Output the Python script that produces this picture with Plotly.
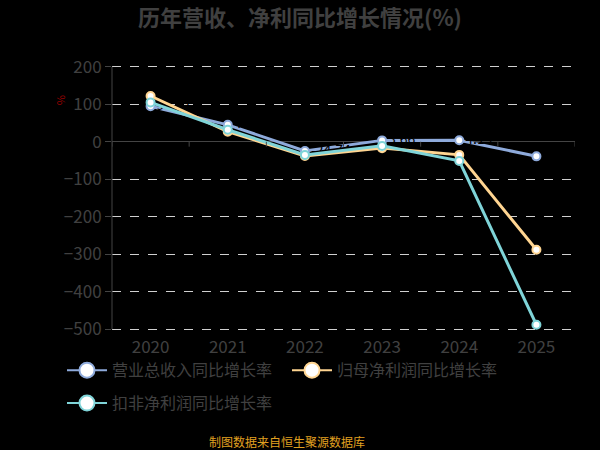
import plotly.graph_objects as go

years = ["2020", "2021", "2022", "2023", "2024", "2025"]
revenue_growth = [94.51, 45.15, -24.74, 3.66, 4.19, -38.9]
parent_profit_growth = [122.0, 27.0, -38.0, -17.0, -35.0, -288.0]
deducted_profit_growth = [105.0, 32.0, -35.0, -11.0, -51.0, -488.0]

names = ["营业总收入同比增长率", "归母净利润同比增长率", "扣非净利润同比增长率"]
colors = ["#8eaadb", "#ffd591", "#7fd4d8"]
series = [revenue_growth, parent_profit_growth, deducted_profit_growth]
legend_ids = ["legend", "legend", "legend2"]
y_ticks = [200, 100, 0, -100, -200, -300, -400, -500]

font_family = "Noto Sans CJK SC, Microsoft YaHei, sans-serif"
text_gray = "#404040"

fig = go.Figure()

for i, (name, color, vals) in enumerate(zip(names, colors, series)):
    fig.add_trace(go.Scatter(
        x=years, y=vals, mode="lines+markers+text" if i == 0 else "lines+markers",
        text=[f"{v:.2f}" for v in vals] if i == 0 else None,
        textposition="middle right",
        textfont=dict(color="#000000", size=14, family=font_family),
        line=dict(color=color, width=3),
        marker=dict(size=8, color="#ffffff", line=dict(color=color, width=2)),
        showlegend=False, hoverinfo="skip",
    ))

# legend entries with bigger symbols
for name, color, lg in zip(names, colors, legend_ids):
    fig.add_trace(go.Scatter(
        x=[None], y=[None], mode="lines+markers", name=name, legend=lg,
        line=dict(color=color, width=2),
        marker=dict(size=15, color="#ffffff", line=dict(color=color, width=2)),
    ))

# category boundary ticks on the zero line
for k in range(len(years) + 1):
    fig.add_shape(type="line", xref="x", yref="y",
                  x0=k - 0.5, x1=k - 0.5, y0=0, y1=-13,
                  line=dict(color="#444444", width=1))

fig.add_annotation(text="%", textangle=90, xref="paper", yref="paper",
                   x=-0.108, y=0.863, showarrow=False, xanchor="center", yanchor="middle",
                   font=dict(color="#990000", size=11, family=font_family))
fig.add_annotation(text="制图数据来自恒生聚源数据库", xref="paper", yref="paper",
                   x=0.378, y=-0.402, showarrow=False, xanchor="center", yanchor="middle",
                   font=dict(color="#e0a020", size=12, family=font_family))

legend_style = dict(orientation="h", xanchor="left", yanchor="top",
                    font=dict(size=16, color=text_gray, family=font_family),
                    itemwidth=40, bgcolor="rgba(0,0,0,0)")

fig.update_layout(
    width=600, height=450,
    paper_bgcolor="#000000", plot_bgcolor="#000000",
    margin=dict(l=112, r=25, t=63, b=117, autoexpand=False),
    font=dict(family=font_family, color=text_gray),
    title=dict(text="<b>历年营收、净利同比增长情况(%)</b>", x=0.5, xanchor="center",
               y=0.96, yanchor="middle",
               font=dict(size=22, color=text_gray, family=font_family)),
    xaxis=dict(type="category", showgrid=False, showline=False, ticks="",
               tickfont=dict(size=17, color=text_gray), range=[-0.5, 5.5],
               zeroline=False, tickangle=0, ticklabelstandoff=2),
    yaxis=dict(range=[-510, 210], tickvals=y_ticks,
               showgrid=True, gridcolor="#d0d0d0",
               griddash="dash", gridwidth=1, zeroline=True, zerolinecolor="#444444",
               zerolinewidth=1, showline=False, ticks="outside",
               tickcolor="#444444", ticklen=6, tickfont=dict(size=17, color=text_gray)),
    legend=dict(x=-0.108, y=-0.075, entrywidth=170, **legend_style),
    legend2=dict(x=-0.108, y=-0.197, **legend_style),
    showlegend=True,
)

# y axis line only spans the tick range, like the reference
fig.add_shape(type="line", xref="paper", yref="y", x0=0, x1=0,
              y0=min(y_ticks), y1=max(y_ticks), line=dict(color="#444444", width=1))

fig.write_html("out.html", config={"displayModeBar": False},
               post_script="document.body.style.margin='0';")
